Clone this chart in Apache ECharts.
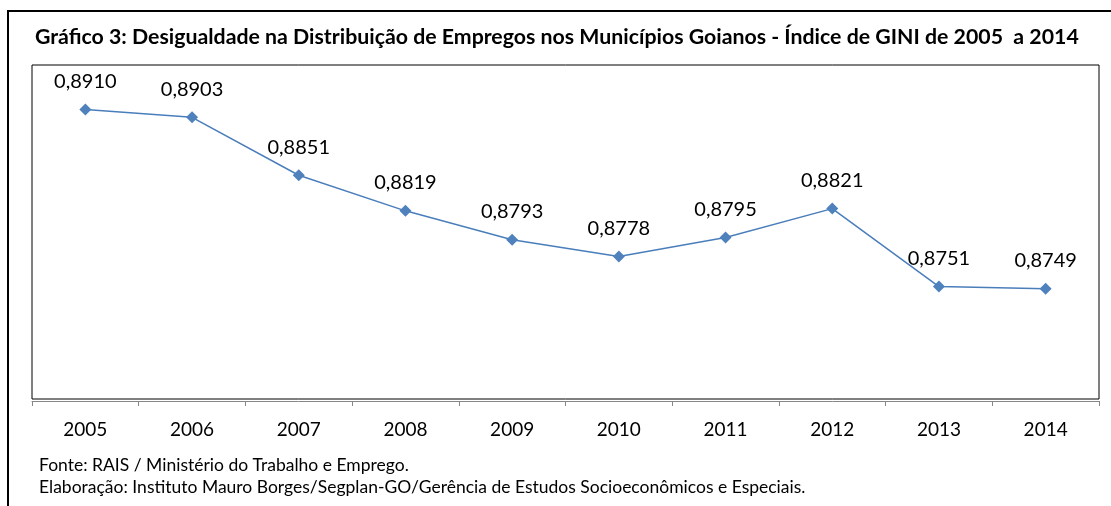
<!DOCTYPE html>
<html>
<head>
<meta charset="utf-8">
<script src="https://cdn.jsdelivr.net/npm/echarts@6/dist/echarts.min.js"></script>
<style>
  html, body { margin: 0; padding: 0; background: #fff; }
  #grafico { width: 1111px; height: 506px; }
</style>
</head>
<body>
<div id="grafico"></div>
<script>
// Dados do gráfico (Índice de GINI)
var anos = ['2005', '2006', '2007', '2008', '2009', '2010', '2011', '2012', '2013', '2014'];
var indiceGini = [0.8910, 0.8903, 0.8851, 0.8819, 0.8793, 0.8778, 0.8795, 0.8821, 0.8751, 0.8749];
var eixoMin = 0.865;
var eixoMax = 0.895;

var titulo = 'Gráfico 3: Desigualdade na Distribuição de Empregos nos Municípios Goianos - Índice de GINI de 2005  a 2014';
var fonte = 'Fonte: RAIS / Ministério do Trabalho e Emprego.';
var elaboracao = 'Elaboração: Instituto Mauro Borges/Segplan-GO/Gerência de Estudos Socioeconômicos e Especiais.';

var fam = 'Lato, "Open Sans", sans-serif';

var chart = echarts.init(document.getElementById('grafico'));

var option = {
    animation: false,
    backgroundColor: '#fff',
    title: {
        text: titulo,
        left: 35,
        top: 27,
        padding: 0,
        textStyle: { fontFamily: fam, fontSize: 21.3, fontWeight: 'bold', color: '#000' }
    },
    grid: {
        left: 32,
        right: 12,
        top: 65,
        bottom: 107,
        show: true,
        borderColor: '#000',
        borderWidth: 1,
        backgroundColor: 'transparent'
    },
    xAxis: {
        type: 'category',
        data: anos,
        boundaryGap: true,
        offset: 2,
        axisLine: { lineStyle: { color: '#868686', width: 1 } },
        axisTick: { show: true, length: 5, lineStyle: { color: '#868686' } },
        axisLabel: { margin: 19, fontFamily: fam, fontSize: 19, color: '#000' }
    },
    yAxis: {
        type: 'value',
        min: eixoMin,
        max: eixoMax,
        show: false,
        splitLine: { show: false }
    },
    series: [{
        type: 'line',
        data: indiceGini,
        symbol: 'diamond',
        symbolSize: 12,
        lineStyle: { color: '#4A7EBB', width: 1.5 },
        itemStyle: { color: '#4F81BD' },
        label: {
            show: true,
            position: 'top',
            distance: 12,
            fontFamily: fam,
            fontSize: 20,
            color: '#000',
            formatter: function (p) { return p.value.toFixed(4).replace('.', ','); }
        }
    }],
    graphic: [
        {
            type: 'rect',
            shape: { x: 8, y: 11, width: 1200, height: 600 },
            style: { fill: 'none', stroke: '#000', lineWidth: 2 },
            silent: true
        },
        {
            type: 'text',
            left: 39,
            top: 456,
            style: { text: fonte, fontFamily: fam, fontSize: 17.5, fill: '#000' }
        },
        {
            type: 'text',
            left: 39,
            top: 478,
            style: { text: elaboracao, fontFamily: fam, fontSize: 17.5, fill: '#000' }
        }
    ]
};

chart.setOption(option);
</script>
</body>
</html>
